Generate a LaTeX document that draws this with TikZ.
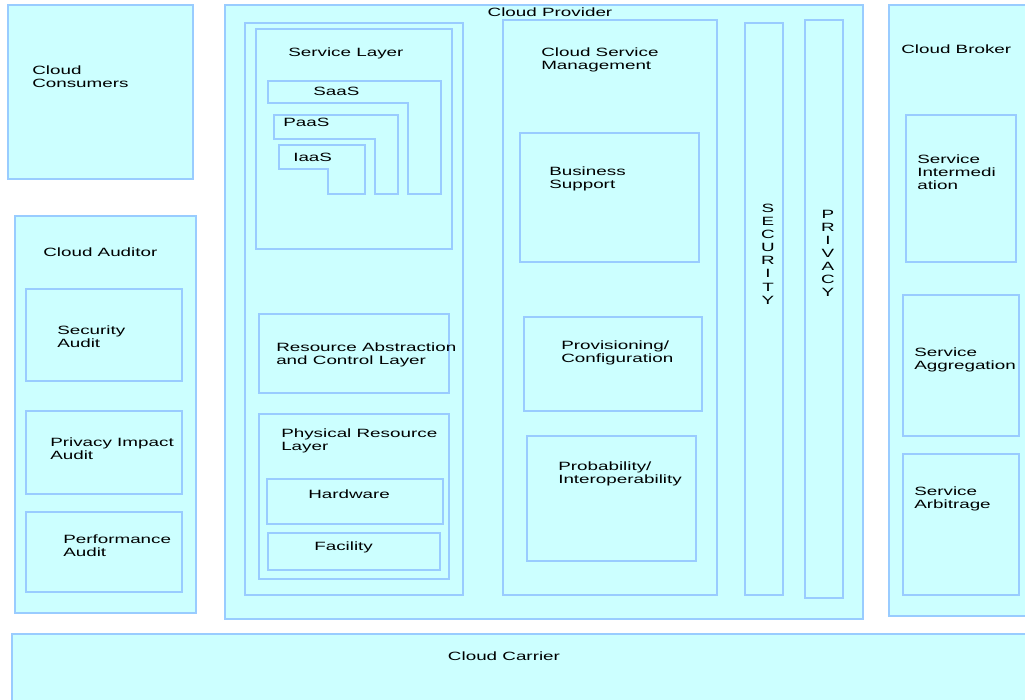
\documentclass[tikz,border=0pt]{standalone}
\usepackage{fontspec}
\setmainfont{Liberation Sans}[FakeStretch=1.57]
\usepackage{tikz}
\usetikzlibrary{positioning,fit}
\definecolor{cFill}{RGB}{204,255,255}
\definecolor{cLine}{RGB}{153,204,255}

\begin{document}
\begin{tikzpicture}[
  x=0.75pt, y=-0.75pt,
  font=\fontsize{9}{9.4}\selectfont
]

% Styles.
\tikzset{
  box/.style={rectangle, draw=cLine, fill=cFill, line width=1pt, inner sep=0pt},
  lbl/.style={inner sep=0pt, anchor=north west, align=left, text=black},
  ttl/.style={inner sep=0pt, anchor=north, align=center, text=black},
  stack/.style={ttl, font=\fontsize{9}{9.8}\selectfont},
  tier/.style={draw=cLine, fill=cFill, line width=1pt}
}

\useasboundingbox (0,0) rectangle (1025,700);
\clip (0,0) rectangle (1025,700);

% Cloud Consumers.
\node (cons) [box, fit={(8,5) (193,179)}] {};
\node (consT) [lbl] at (32,66) {Cloud\\Consumers};

% Cloud Auditor.
\node (aud)     [box, fit={(15,216) (196,613)}] {};
\node (secaud)  [box, fit={(26,289) (182,381)}] {};
\node (privaud) [box, fit={(26,411) (182,494)}] {};
\node (perfaud) [box, fit={(26,512) (182,592)}] {};
\node (audT)     [lbl] at (43,248) {Cloud Auditor};
\node (secaudT)  [lbl] at (57,326) {Security\\Audit};
\node (privaudT) [lbl] at (50,438) {Privacy Impact\\Audit};
\node (perfaudT) [lbl] at (63,535) {Performance\\Audit};

% Cloud Provider.
\node (prov) [box, fit={(225,5) (863,619)}] {};
\node (provT) [ttl] at (550,8) {Cloud Provider};

% Service Orchestration column.
\node (orch)  [box, fit={(245,23) (463,595)}] {};
\node (svc)   [box, fit={(256,29) (452,249)}] {};
\node (svcT)  [lbl] at (288,48) {Service Layer};

% SaaS, PaaS, IaaS.
\draw[tier] (268,81) -- (441,81) -- (441,194) -- (408,194) -- (408,103) -- (268,103) -- cycle;
\draw[tier] (274,115) -- (398,115) -- (398,194) -- (375,194) -- (375,139) -- (274,139) -- cycle;
\draw[tier] (279,145) -- (365,145) -- (365,194) -- (328,194) -- (328,169) -- (279,169) -- cycle;
\node (saasT) [lbl] at (313,87)  {SaaS};
\node (paasT) [lbl] at (283,118) {PaaS};
\node (iaasT) [lbl] at (293,153) {IaaS};

\node (rac)  [box, fit={(259,314) (449,393)}] {};
\node (phys) [box, fit={(259,414) (449,579)}] {};
\node (hw)   [box, fit={(267,479) (443,524)}] {};
\node (fac)  [box, fit={(268,533) (440,570)}] {};
\node (racT)  [lbl] at (276,343) {Resource Abstraction\\and Control Layer};
\node (physT) [lbl] at (281,429) {Physical Resource\\Layer};
\node (hwT)   [lbl] at (308,490) {Hardware};
\node (facT)  [lbl] at (314,542) {Facility};

% Cloud Service Management.
\node (csm)   [box, fit={(503,20) (717,595)}] {};
\node (bus)   [box, fit={(520,133) (699,262)}] {};
\node (cfg)   [box, fit={(524,317) (702,411)}] {};
\node (port)  [box, fit={(527,436) (696,561)}] {};
\node (csmT)  [lbl] at (541,48)  {Cloud Service\\Management};
\node (busT)  [lbl] at (549,167) {Business\\Support};
\node (cfgT)  [lbl] at (561,341) {Provisioning/\\Configuration};
\node (portT) [lbl] at (558,462) {Probability/\\Interoperability};

% Security and Privacy bars.
\node (sec)  [box, fit={(745,23) (783,595)}] {};
\node (priv) [box, fit={(805,20) (843,598)}] {};
\node (secT)  [stack] at (768,204) {S\\E\\C\\U\\R\\I\\T\\Y};
\node (privT) [stack] at (828,210) {P\\R\\I\\V\\A\\C\\Y};

% Cloud Broker.
\node (brk)   [box, fit={(889,5) (1032,616)}] {};
\node (inter) [box, fit={(906,115) (1016,262)}] {};
\node (aggr)  [box, fit={(903,295) (1019,436)}] {};
\node (arb)   [box, fit={(903,454) (1019,595)}] {};
\node (brkT)   [lbl] at (901,45)  {Cloud Broker};
\node (interT) [lbl] at (917,155) {Service\\Intermedi\\ation};
\node (aggrT)  [lbl] at (914,348) {Service\\Aggregation};
\node (arbT)   [lbl] at (914,487) {Service\\Arbitrage};

% Cloud Carrier.
\node (car)  [box, fit={(12,634) (1032,708)}] {};
\node (carT) [ttl] at (504,652) {Cloud Carrier};
\end{tikzpicture}
\end{document}
